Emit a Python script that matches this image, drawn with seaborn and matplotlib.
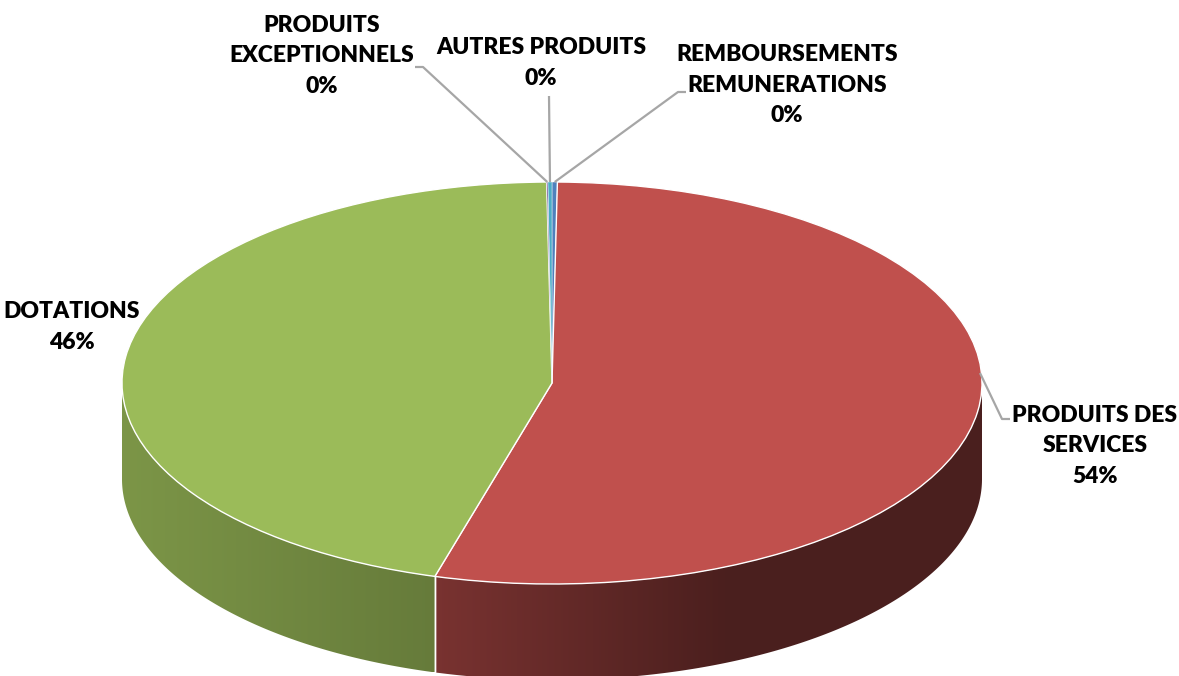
import numpy as np
import matplotlib
matplotlib.use("Agg")
import matplotlib.pyplot as plt
import seaborn as sns
from matplotlib.patches import Polygon
from matplotlib.colors import to_rgb

# ---------------- data ----------------
categories = ["REMBOURSEMENTS\nREMUNERATIONS", "PRODUITS DES\nSERVICES", "DOTATIONS",
              "PRODUITS\nEXCEPTIONNELS", "AUTRES PRODUITS"]
values = [0.2, 54.3, 45.5, 0.05, 0.15]
pct_labels = ["0%", "54%", "46%", "0%", "0%"]
colors = ["#4F81BD", "#C0504D", "#9BBB59", "#8064A2", "#4BACC6"]

# label layout (pixel coords, y downward): block centre, leader elbow, leader end
label_centre = [(787, 85), (1095, 446), (72, 327), (322, 56), (541, 63)]
leader_pts = [[(678, 92), (686, 92)],
              [(1002, 419), (1010, 419)],
              None,
              [(423, 67), (415, 67)],
              [(549, 96)]]
anchor_override = [None, (980, 373), None, None, None]

# side shading (factor at left end, factor at right end, ramp width px)
side_shade = [(0.6, 0.5, 100), (0.63, 0.39, 290), (0.80, 0.66, 310), (0.6, 0.5, 100), (0.6, 0.5, 100)]

sns.set_theme(style="white")
plt.rcParams["font.family"] = ["Lato", "DejaVu Sans"]

W, H = 1179, 676
fig = plt.figure(figsize=(W / 100, H / 100), dpi=100)
ax = fig.add_axes([0, 0, 1, 1])

A = 430.0          # horizontal radius (px)
B = 201.0          # vertical radius (px)
K = B / A          # squash
cx_px, cy_px = 552.0, 383.0
depth_px = 96.0

cx = cx_px
cy = (H - cy_px) / K
depth = depth_px / K


def to_data(p):
    return (p[0], (H - p[1]) / K)


wedges, _ = ax.pie(values, colors=colors, startangle=90, counterclock=False,
                   center=(cx, cy), radius=A,
                   wedgeprops=dict(edgecolor="white", linewidth=1.0, zorder=3))
# keep the tiny slices readable: thinner white edges on them
for i, w in enumerate(wedges):
    if values[i] < 1:
        w.set_linewidth(0.3)

# ---- side walls (front half of the disc) ----
for i, w in enumerate(wedges):
    t1, t2 = w.theta1, w.theta2
    base = np.array(to_rgb(colors[i]))
    s0, s1, ramp = side_shade[i]
    for shift in (-360, 0, 360):
        lo = max(t1, 180 + shift)
        hi = min(t2, 360 + shift)
        if hi - lo <= 0.01:
            continue
        ts = np.radians(np.linspace(lo, hi, 200))
        xs = cx + A * np.cos(ts)
        ys = cy + A * np.sin(ts)
        pts = np.vstack([np.column_stack([xs, ys]),
                         np.column_stack([xs[::-1], ys[::-1] - depth])])
        poly = Polygon(pts, closed=True, facecolor="none", edgecolor="none",
                       transform=ax.transData, zorder=2)
        ax.add_patch(poly)
        x0, x1 = xs.min(), xs.max()
        ncol = 300
        xg = np.linspace(x0, x1, ncol)
        f = s0 + (s1 - s0) * np.clip((xg - x0) / ramp, 0, 1)
        img = np.clip(f[None, :, None] * base[None, None, :], 0, 1)
        img = np.repeat(img, 2, axis=0)
        im = ax.imshow(img, extent=[x0, x1, ys.min() - depth, ys.max()],
                       aspect="auto", zorder=2, interpolation="bilinear")
        im.set_clip_path(poly)
    # white edge where slice boundary crosses the front wall
    for th in (t1, t2):
        thn = np.radians(th)
        if np.sin(thn) < -0.05:
            xb = cx + A * np.cos(thn)
            yb = cy + A * np.sin(thn)
            ax.plot([xb, xb], [yb, yb - depth], color="white", lw=1.0, zorder=2.5)

# ---- labels with leader lines ----
for i, w in enumerate(wedges):
    txt = categories[i] + "\n" + pct_labels[i]
    c = to_data(label_centre[i])
    ax.text(c[0], c[1], txt, ha="center", va="center", multialignment="center",
            fontsize=16.5, fontweight="heavy", color="black", linespacing=1.55, zorder=5)
    if leader_pts[i] is None:
        continue
    mid = np.radians((w.theta1 + w.theta2) / 2)
    if anchor_override[i] is not None:
        ax_pt = to_data(anchor_override[i])
    else:
        ax_pt = (cx + A * np.cos(mid), cy + A * np.sin(mid))
    line = [ax_pt] + [to_data(p) for p in leader_pts[i]]
    lx, ly = zip(*line)
    ax.plot(lx, ly, color="#A6A6A6", lw=1.6, zorder=4, solid_capstyle="butt")

ax.set_aspect("auto")
ax.set_xlim(0, W)
ax.set_ylim(0, H / K)
ax.axis("off")
fig.savefig("out.png", dpi=100, facecolor="white")
